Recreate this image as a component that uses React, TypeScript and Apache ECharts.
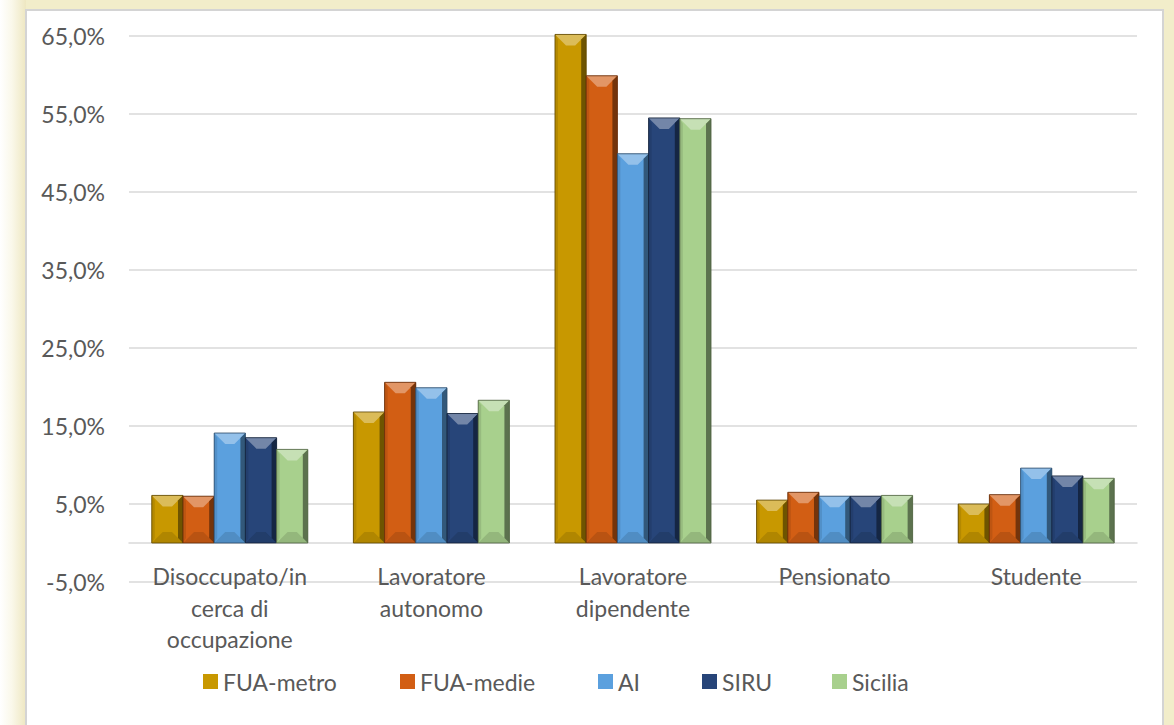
import React, { useEffect, useRef } from "react";
import * as echarts from "echarts";

const categories = [
  "Disoccupato/in\ncerca di\noccupazione",
  "Lavoratore\nautonomo",
  "Lavoratore\ndipendente",
  "Pensionato",
  "Studente",
];
const seriesNames = ["FUA-metro", "FUA-medie", "AI", "SIRU", "Sicilia"];
const fuaMetro = [6.1, 16.8, 65.2, 5.5, 5.0];
const fuaMedie = [6.0, 20.6, 59.9, 6.5, 6.2];
const ai = [14.1, 19.9, 49.9, 6.0, 9.6];
const siru = [13.5, 16.6, 54.5, 6.0, 8.6];
const sicilia = [12.0, 18.3, 54.4, 6.1, 8.3];
const seriesValues = [fuaMetro, fuaMedie, ai, siru, sicilia];
const colors = ["#C89800", "#D25E14", "#5BA0DE", "#274579", "#A8D08D"];
const legendLefts = [203, 400, 598, 702, 832];

const yMin = -5;
const yMax = 65;
const yInterval = 10;

function hexToRgb(h: string) {
  const n = parseInt(h.slice(1), 16);
  return [(n >> 16) & 255, (n >> 8) & 255, n & 255];
}
function mix(h: string, target: number, t: number) {
  const [r, g, b] = hexToRgb(h);
  const f = (c: number) => Math.round(c + (target - c) * t);
  return `rgb(${f(r)},${f(g)},${f(b)})`;
}
const lighten = (h: string, t: number) => mix(h, 255, t);
const darken = (h: string, t: number) => mix(h, 0, t);

const GAP = 0.226;
const FONT = "Lato";
const FS = 23;

export default function App() {
  const ref = useRef<HTMLDivElement>(null);
  useEffect(() => {
    document.body.style.margin = "0";
    if (!ref.current) return;
    const chart = echarts.init(ref.current, undefined, { renderer: "svg" });
    const N = seriesNames.length;
    const series = seriesNames.map((name, s) => {
      const c = colors[s];
      return {
        name,
        type: "custom",
        itemStyle: { color: c },
        data: seriesValues[s].map((v, i) => [i, v]),
        encode: { x: 0, y: 1 },
        renderItem: (params: any, api: any) => {
          const ci = api.value(0);
          const v = api.value(1);
          const base = api.coord([ci, 0]);
          const top = api.coord([ci, v]);
          const band = api.size([1, 0])[0];
          const group = band * (1 - GAP);
          const bw = group / N;
          const x0 = base[0] - group / 2 + s * bw;
          const x1 = x0 + bw;
          const yb = base[1];
          const yt = top[1];
          const h = yb - yt;
          const d = Math.min(11, bw / 2.8, h / 2);
          const dv = Math.min(11, h / 2);
          const sd = Math.min(5, bw / 6);
          const children: any[] = [
            {
              type: "rect",
              shape: { x: x0, y: yt, width: bw, height: h },
              style: { fill: c },
            },
            {
              type: "polygon",
              shape: {
                points: [
                  [x0, yt],
                  [x1, yt],
                  [x1 - d, yt + dv],
                  [x0 + d, yt + dv],
                ],
              },
              style: { fill: lighten(c, 0.35) },
            },
            {
              type: "polygon",
              shape: {
                points: [
                  [x0, yb],
                  [x1, yb],
                  [x1 - d, yb - dv],
                  [x0 + d, yb - dv],
                ],
              },
              style: { fill: darken(c, 0.12) },
            },
            {
              type: "polygon",
              shape: {
                points: [
                  [x1, yt],
                  [x1, yb],
                  [x1 - sd, yb - Math.min(sd, h / 2)],
                  [x1 - sd, yt + Math.min(sd, h / 2)],
                ],
              },
              style: { fill: darken(c, 0.45) },
            },
            {
              type: "polygon",
              shape: {
                points: [
                  [x0, yt],
                  [x0, yb],
                  [x0 + sd * 0.6, yb - Math.min(sd, h / 2)],
                  [x0 + sd * 0.6, yt + Math.min(sd, h / 2)],
                ],
              },
              style: { fill: darken(c, 0.1) },
            },
            {
              type: "rect",
              shape: { x: x0, y: yt, width: bw, height: h },
              style: { fill: "none", stroke: darken(c, 0.55), lineWidth: 0.8 },
            },
          ];
          return { type: "group", children };
        },
      };
    });
    const legends = seriesNames.map((name, s) => ({
      data: [name],
      left: legendLefts[s],
      top: 670,
      itemWidth: 15,
      itemHeight: 15,
      itemGap: 8,
      icon: "rect",
      padding: 0,
      textStyle: {
        color: "#595959",
        fontSize: FS,
        fontFamily: FONT,
        padding: [0, 0, 0, 0],
      },
    }));
    chart.setOption({
      animation: false,
      legend: legends,
      grid: { left: 129, right: 37, top: 36, bottom: 143, containLabel: false },
      xAxis: {
        type: "category",
        data: categories,
        axisLine: { onZero: true, lineStyle: { color: "#D9D9D9", width: 1.5 } },
        axisTick: { show: false },
        splitLine: { show: false },
        axisLabel: {
          color: "#595959",
          fontSize: FS,
          fontFamily: FONT,
          lineHeight: 31.7,
          margin: -22,
          interval: 0,
        },
      },
      yAxis: {
        type: "value",
        min: yMin,
        max: yMax,
        interval: yInterval,
        axisLine: { show: false },
        axisTick: { show: false },
        splitLine: { lineStyle: { color: "#D9D9D9", width: 1.5 } },
        axisLabel: {
          color: "#595959",
          fontSize: FS,
          fontFamily: FONT,
          margin: 24,
          formatter: (v: number) => v.toFixed(1).replace(".", ",") + "%",
        },
      },
      series,
    });
    return () => chart.dispose();
  }, []);
  return (
    <div
      style={{
        position: "relative",
        width: 1174,
        height: 725,
        overflow: "hidden",
        background: "#F2EDCA",
      }}
    >
      <div
        style={{
          position: "absolute",
          left: 0,
          top: 0,
          width: 26,
          height: 725,
          background: "linear-gradient(to right, #FFFFFF 0%, #FAF8EA 45%, #EEE7C1 100%)",
        }}
      />
      <div
        style={{
          position: "absolute",
          left: 25,
          top: 9,
          width: 1135,
          height: 740,
          background: "#FFFFFF",
          border: "2px solid #D4D4D4",
        }}
      />
      <div ref={ref} style={{ position: "absolute", left: 0, top: 0, width: 1174, height: 725 }} />
    </div>
  );
}
